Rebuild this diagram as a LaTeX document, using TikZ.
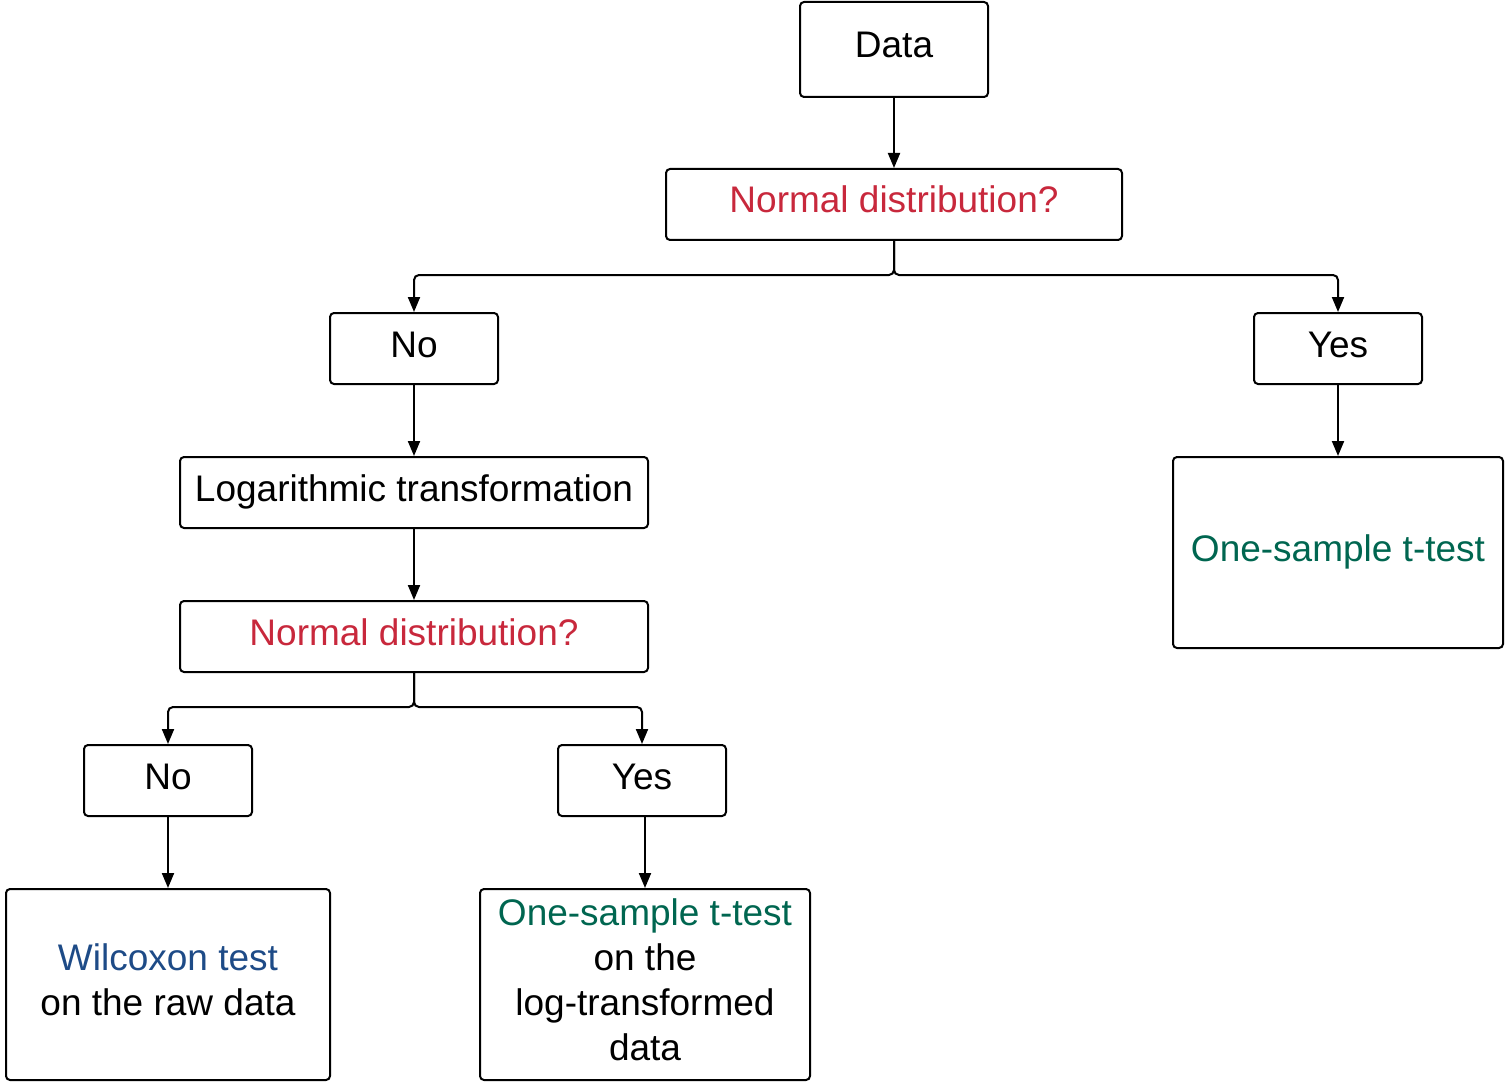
\documentclass[tikz,border=0pt]{standalone}
\usepackage{fontspec}
\setmainfont{Liberation Sans}
\usetikzlibrary{arrows.meta,calc}
\definecolor{qred}{RGB}{200,40,60}
\definecolor{qgreen}{RGB}{0,102,80}
\definecolor{qblue}{RGB}{30,75,135}
\tikzset{
  box/.style={draw=black, line width=2pt, rounded corners=4pt, inner sep=0pt,
    align=center, font=\fontsize{37}{45}\selectfont, text height=27.75pt, text depth=10.75pt},
  conn/.style={draw=black, line width=2pt, -{Triangle[length=15pt,width=12pt]}, rounded corners=5pt}
}
\begin{document}
\begin{tikzpicture}[x=1pt,y=-1pt]
\useasboundingbox (0,0) rectangle (1506,1083);
\node[box, minimum width=188pt, minimum height=95pt] (data) at (894,49.5) {Data};
\node[box, minimum width=456pt, minimum height=71pt, text=qred] (nd1) at (894,204.5) {Normal distribution?};
\node[box, minimum width=168pt, minimum height=71pt] (no1) at (414,348.5) {No};
\node[box, minimum width=168pt, minimum height=71pt] (yes1) at (1338,348.5) {Yes};
\node[box, minimum width=468pt, minimum height=71pt] (log) at (414,492.5) {Logarithmic transformation};
\node[box, minimum width=330pt, minimum height=191pt, text=qgreen] (os1) at (1338,552.5) {One-sample t-test};
\node[box, minimum width=468pt, minimum height=71pt, text=qred] (nd2) at (414,636.5) {Normal distribution?};
\node[box, minimum width=168pt, minimum height=71pt] (no2) at (168,780.5) {No};
\node[box, minimum width=168pt, minimum height=71pt] (yes2) at (642,780.5) {Yes};
\node[box, minimum width=324pt, minimum height=191pt, text height=72.75pt] (wil) at (168,984.5) {\textcolor{qblue}{Wilcoxon test}\\on the raw data};
\node[box, minimum width=330pt, minimum height=191pt, text height=162.75pt] (os2) at (645,984.5) {\textcolor{qgreen}{One-sample t-test}\\on the\\log-transformed\\data};

\draw[conn] (data) -- (nd1);
\draw[conn] (nd1.south) |- ($(no1.north)+(0,-37)$) -- (no1.north);
\draw[conn] (nd1.south) |- ($(yes1.north)+(0,-37)$) -- (yes1.north);
\draw[conn] (no1) -- (log);
\draw[conn] (yes1) -- (os1);
\draw[conn] (log) -- (nd2);
\draw[conn] (nd2.south) |- ($(no2.north)+(0,-37)$) -- (no2.north);
\draw[conn] (nd2.south) |- ($(yes2.north)+(0,-37)$) -- (yes2.north);
\draw[conn] (no2) -- (wil);
\draw[conn] (yes2.south -| os2.north) -- (os2.north);
\end{tikzpicture}
\end{document}
